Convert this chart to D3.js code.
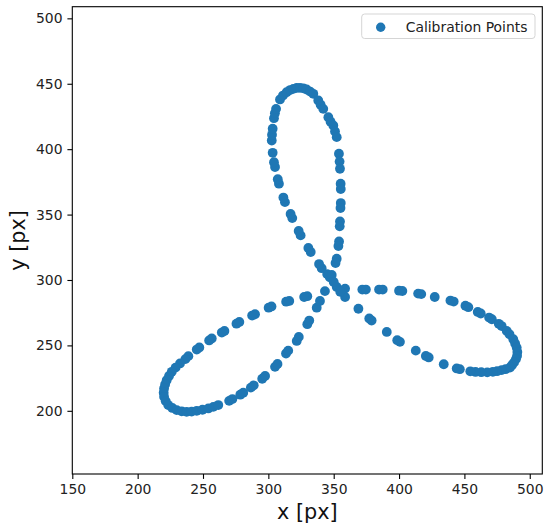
<!DOCTYPE html>
<html>
<head>
<meta charset="utf-8">
<script src="https://cdn.jsdelivr.net/npm/d3@7"></script>
<style>
  body { margin: 0; background: #fff; }
  svg { display: block; }
  text { font-family: "DejaVu Sans", sans-serif; }
</style>
</head>
<body>
<svg id="chart" width="544" height="530"></svg>
<script>
// calibration points, [x, y] in px, one list per loop
// (most blobs in the picture are two dots sitting next to each other)
var topLoop = [
  [347.0, 302.0], [345.0, 304.5], [340.8, 309.0], [338.8, 312.2], [332.4, 321.4],
  [330.6, 324.5], [324.7, 334.1], [323.2, 337.5], [318.3, 347.3], [317.0, 350.5],
  [312.7, 359.5], [311.5, 363.0], [308.1, 373.6], [307.2, 377.0], [305.1, 386.3],
  [304.3, 390.0], [303.3, 397.2], [302.6, 406.6], [302.8, 411.0], [303.3, 415.6],
  [304.3, 423.7], [305.0, 427.5], [305.9, 430.8], [308.9, 438.0], [311.2, 441.0],
  [314.0, 443.5], [316.6, 445.2], [319.1, 446.1], [321.7, 446.8], [324.2, 446.9],
  [326.8, 446.5], [329.3, 445.6], [332.0, 444.0], [334.4, 442.3], [338.2, 437.2],
  [340.0, 434.0], [342.0, 430.8], [345.9, 424.4], [347.6, 421.0], [349.7, 418.1],
  [351.0, 413.5], [352.3, 409.2], [354.0, 396.5], [354.5, 390.5], [354.8, 385.0],
  [355.3, 373.6], [355.4, 369.5], [355.4, 358.8], [355.2, 355.0], [354.8, 344.8],
  [354.6, 341.0], [354.1, 329.5], [353.6, 326.0], [352.3, 316.3], [351.4, 313.0],
  [348.5, 303.8], [352.3, 294.7], [350.0, 298.5]
];

var rightLoop = [
  [358.7, 293.4], [371.9, 292.7], [374.6, 292.7], [384.7, 292.7], [387.5, 292.7],
  [400.0, 291.8], [402.5, 291.6], [414.6, 289.6], [417.0, 289.2], [427.3, 287.0],
  [439.3, 284.3], [441.8, 283.5], [450.8, 280.3], [453.0, 279.2], [460.2, 275.6],
  [462.5, 274.4], [468.9, 271.3], [471.0, 270.0], [476.3, 266.5], [478.5, 264.8],
  [482.4, 261.0], [484.5, 258.5], [487.4, 254.7], [488.8, 251.5], [490.0, 248.3],
  [490.5, 245.0], [490.3, 242.0], [489.4, 239.5], [488.0, 237.0], [486.5, 235.0],
  [484.9, 233.1], [481.5, 231.8], [478.5, 231.1], [475.0, 230.3], [471.8, 229.8],
  [467.5, 229.4], [462.9, 229.5], [458.5, 229.7], [454.5, 230.2], [446.5, 231.8],
  [444.1, 232.4], [434.2, 235.6], [422.7, 240.8], [420.5, 241.9], [412.8, 246.0],
  [400.7, 252.7], [398.6, 254.0], [390.6, 260.3], [379.0, 269.0], [377.2, 270.6],
  [368.9, 278.0], [358.7, 287.0], [355.0, 291.0]
];

var leftLoop = [
  [343.3, 291.5], [329.8, 287.6], [327.4, 287.0], [316.0, 284.0], [313.6, 283.4],
  [302.4, 279.8], [300.2, 278.8], [289.8, 273.8], [287.6, 272.8], [277.8, 267.9],
  [275.6, 266.6], [266.4, 261.0], [264.4, 259.8], [256.7, 255.3], [254.7, 253.8],
  [247.2, 248.4], [245.2, 246.8], [238.8, 241.8], [236.5, 239.5], [232.4, 236.2],
  [229.0, 233.0], [226.1, 229.8], [224.0, 226.6], [222.2, 223.4], [221.0, 220.2],
  [220.2, 217.1], [219.9, 213.9], [220.2, 210.7], [221.5, 207.4], [223.4, 204.4],
  [226.5, 202.2], [229.9, 200.5], [233.7, 199.6], [237.5, 199.2], [241.3, 199.4],
  [245.2, 200.0], [249.6, 200.8], [254.1, 201.8], [257.9, 203.0], [261.7, 204.4],
  [270.0, 207.6], [272.5, 209.0], [278.5, 212.3], [280.8, 213.8], [286.6, 217.7],
  [288.8, 219.5], [295.3, 224.5], [297.5, 226.6], [305.1, 233.6], [307.0, 235.8],
  [313.5, 243.8], [315.2, 246.0], [321.7, 253.4], [323.3, 256.5], [329.8, 266.2],
  [331.3, 269.0], [337.0, 278.8], [339.5, 284.0]
];

var xTicks = [150, 200, 250, 300, 350, 400, 450, 500];
var yTicks = [200, 250, 300, 350, 400, 450, 500];
var seriesName = "Calibration Points";

var points = topLoop.concat(rightLoop, leftLoop);

var svg = d3.select("#chart");
// plot box in page pixels (don't call it "top", that's window.top)
var pLeft = 72.3, pRight = 542.3, pTop = 6.7, pBottom = 474;

var x = d3.scaleLinear().domain([150, 509.6]).range([pLeft, pRight]);
var y = d3.scaleLinear().domain([151.7, 508.9]).range([pBottom, pTop]);

// axes
var xAxis = svg.append("g")
  .attr("transform", "translate(0," + pBottom + ")")
  .call(d3.axisBottom(x).tickValues(xTicks).tickSize(4.9).tickPadding(4.9).tickFormat(d3.format("d")));
var yAxis = svg.append("g")
  .attr("transform", "translate(" + pLeft + ",0)")
  .call(d3.axisLeft(y).tickValues(yTicks).tickSize(4.9).tickPadding(4.9).tickFormat(d3.format("d")));

[xAxis, yAxis].forEach(function(g) {
  g.select(".domain").remove();
  g.selectAll(".tick line").attr("stroke", "#000").attr("stroke-width", 1.1);
  g.selectAll(".tick text")
    .attr("fill", "#222")
    .style("font-family", "DejaVu Sans")
    .style("font-size", "13.9px");
});

// frame
svg.append("rect")
  .attr("x", pLeft).attr("y", pTop)
  .attr("width", pRight - pLeft).attr("height", pBottom - pTop)
  .attr("fill", "none")
  .attr("stroke", "#000")
  .attr("stroke-width", 1.1);

// the dots
svg.append("g")
  .selectAll("circle")
  .data(points)
  .enter()
  .append("circle")
    .attr("cx", function(d){ return x(d[0]) })
    .attr("cy", function(d){ return y(d[1]) })
    .attr("r", 4.9)
    .attr("fill", "#1f77b4");

// axis labels
svg.append("text")
  .attr("x", (pLeft + pRight) / 2)
  .attr("y", 519)
  .attr("text-anchor", "middle")
  .style("font-size", "20.8px")
  .attr("fill", "#111")
  .text("x [px]");

svg.append("text")
  .attr("transform", "translate(25," + ((pTop + pBottom) / 2) + ") rotate(-90)")
  .attr("text-anchor", "middle")
  .style("font-size", "20.8px")
  .attr("fill", "#111")
  .text("y [px]");

// legend
var legend = svg.append("g");
legend.append("rect")
  .attr("x", 361.7).attr("y", 14)
  .attr("width", 173.3).attr("height", 24.5)
  .attr("rx", 3)
  .attr("fill", "#fff").attr("fill-opacity", 0.8)
  .attr("stroke", "#d5d5d5");
legend.append("circle")
  .attr("cx", 380.7).attr("cy", 27.3)
  .attr("r", 4.7)
  .attr("fill", "#1f77b4");
legend.append("text")
  .attr("x", 405.7).attr("y", 32)
  .style("font-size", "13.9px")
  .attr("fill", "#222")
  .text(seriesName);
</script>
</body>
</html>
